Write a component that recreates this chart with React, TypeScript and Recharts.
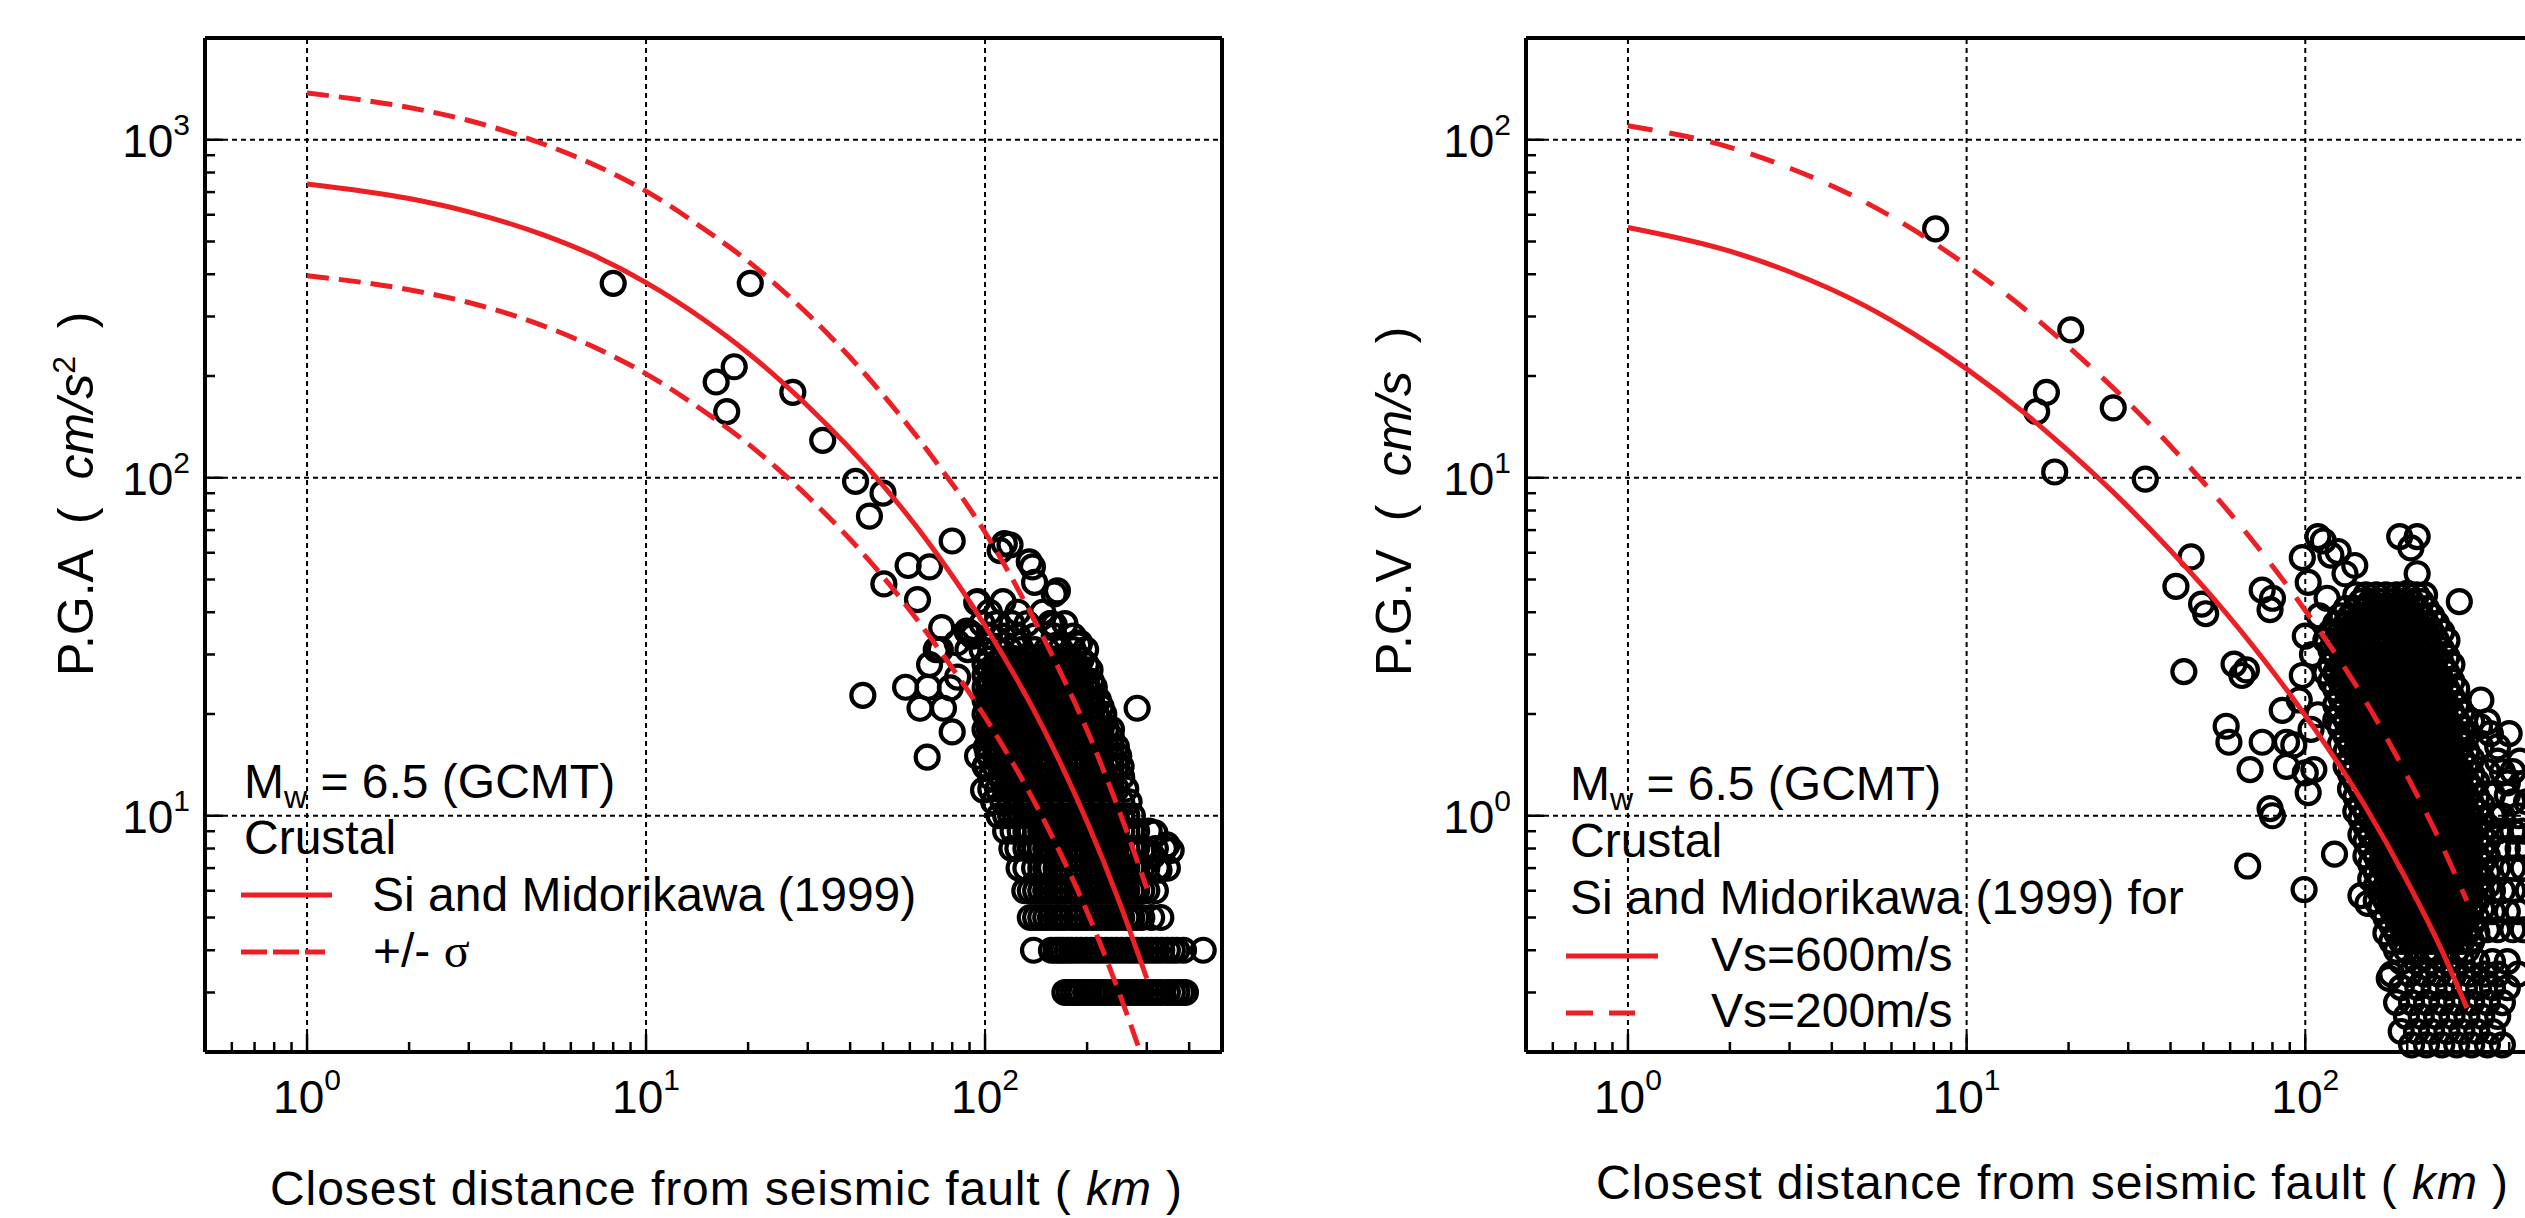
import React from 'react';
import { ComposedChart, Scatter, Line, XAxis, YAxis, ReferenceLine } from 'recharts';

const FONT = '"Liberation Sans", Arial, Helvetica, sans-serif';
const RED = '#ed1f24';

// ---------- model curves ----------
const curveDistKm = [1, 2, 3, 5, 7, 10, 15, 20, 30, 50, 70, 100, 150, 200, 250, 300];
const pgaMedian = [740, 670, 612, 522, 455, 378, 291, 234, 163, 95, 62, 36.5, 17.8, 9.6, 5.5, 3.3];
const pgaPlusSigma = [1375, 1245, 1140, 970, 845, 705, 540, 437, 305, 176, 115, 69, 33, 17.9, 10.2, 6.1];
const pgaMinusDistKm = [1, 2, 3, 5, 7, 10, 15, 20, 30, 50, 70, 100, 150, 200, 250, 287];
const pgaMinusSigma = [396, 360, 330, 281, 244, 203, 156, 126, 88, 51, 33, 19.6, 9.6, 5.2, 2.95, 2.0];
const pgvVs600 = [55, 46.8, 40.7, 32.3, 26.6, 21.0, 15.4, 12.0, 8.2, 4.76, 3.18, 1.98, 1.07, 0.64, 0.41, 0.27];
const pgvVs200 = [110, 95, 82.5, 65.5, 54, 42.5, 31.3, 24.4, 16.7, 9.7, 6.5, 4.05, 2.2, 1.31, 0.84, 0.56];

// ---------- observed PGA (km, cm/s2) ----------
const pgaSparse: [number, number][] = [
  [8.0, 376], [20.3, 376], [16.1, 192], [18.2, 213], [17.3, 157], [27.1, 179], [33.2, 129],
  [41.5, 97.5], [50, 90], [45.6, 77], [80, 65], [59.3, 55], [68.6, 54.5], [50.3, 48.5], [63.2, 43.6],
  [43.6, 22.7], [58.3, 24], [67.9, 24], [64.3, 20.8], [75.4, 20.8], [80, 17.7], [67.5, 14.9],
  [74.5, 36], [68.6, 28], [71.8, 31], [83, 25.7], [89, 31], [90.3, 34.7], [82.7, 32.5], [88.4, 35.2],
  [94.5, 42.8], [79, 23.9], [73.8, 31], [99, 11.9], [100.6, 14.1], [102, 15.3], [95, 15], [281, 20.8],
  [114, 63.8], [118.5, 63.3], [110.8, 60.9], [135, 56.4], [138, 54.5], [140, 49], [160, 45.3],
  [163.5, 46.3], [156, 37], [160, 36.7], [189, 32], [190, 32.5], [317, 8.9], [354, 7.9], [326, 6.9],
  [312, 7.6], [344, 8.2],
];
const pgaDenseRows: [number, number[]][] = [
  [43, [95, 113]],
  [40, [103, 125, 148]],
  [37, [98, 108, 120, 133, 156, 172]],
  [34, [92, 103, 113, 125, 140, 160, 182]],
  [31, [98, 108, 118, 128, 140, 152, 167, 182, 198]],
  [29, [103, 111, 119, 127, 136, 146, 156, 167, 180, 192]],
  [28, [100, 107, 115, 119, 123, 127, 132, 136, 141, 146, 151, 156, 162, 167, 173, 180, 186, 199]],
  [27, [103, 111, 115, 123, 132, 141, 151, 162, 173, 186, 204]],
  [26, [100, 107, 111, 115, 119, 123, 127, 132, 136, 141, 146, 151, 156, 162, 167, 173, 180, 186, 192]],
  [25, [103, 107, 115, 123, 132, 141, 151, 162, 173, 186, 199, 206]],
  [24, [100, 103, 107, 111, 115, 119, 123, 127, 132, 136, 141, 146, 151, 156, 162, 167, 173, 180, 186, 192, 199, 210]],
  [23, [105, 111, 119, 127, 136, 146, 156, 167, 180, 192, 206]],
  [22, [100, 103, 107, 111, 115, 119, 123, 127, 132, 136, 141, 146, 151, 156, 162, 167, 173, 180, 186, 192, 199, 206, 216]],
  [21, [104, 111, 119, 127, 136, 146, 156, 167, 180, 192, 206, 220]],
  [20, [100, 103, 107, 111, 115, 119, 123, 127, 132, 136, 141, 146, 151, 156, 162, 167, 173, 180, 186, 192, 199, 206, 213, 224]],
  [19, [103, 107, 111, 119, 127, 136, 146, 156, 167, 180, 192, 206, 220]],
  [18, [100, 103, 107, 111, 115, 119, 123, 127, 132, 136, 141, 146, 151, 156, 162, 167, 173, 180, 186, 192, 199, 206, 213, 220, 228, 236]],
  [17, [104, 111, 119, 127, 136, 146, 156, 167, 180, 192, 206, 220, 236]],
  [16, [101, 107, 111, 115, 119, 123, 127, 132, 136, 141, 146, 151, 156, 162, 167, 173, 180, 186, 192, 199, 206, 213, 220, 228, 236, 244]],
  [15, [103, 111, 119, 127, 136, 146, 156, 167, 180, 192, 206, 220, 236, 248]],
  [14, [100, 107, 111, 115, 119, 123, 127, 132, 136, 141, 146, 151, 156, 162, 167, 173, 180, 186, 192, 199, 206, 213, 220, 228, 236, 244, 252]],
  [13, [104, 111, 119, 127, 136, 146, 156, 167, 180, 192, 206, 220, 236, 253]],
  [12, [104, 109, 115, 119, 123, 127, 132, 136, 141, 146, 151, 156, 162, 167, 173, 180, 186, 192, 199, 206, 213, 220, 228, 236, 244, 260]],
  [11, [106, 113, 119, 127, 136, 146, 156, 167, 180, 192, 206, 220, 236, 253, 266]],
  [10, [110, 115, 119, 123, 127, 132, 136, 141, 146, 151, 156, 162, 167, 173, 180, 186, 192, 199, 206, 213, 220, 228, 236, 244, 253, 262, 272]],
  [9, [115, 121, 127, 132, 136, 141, 146, 151, 156, 162, 167, 173, 180, 186, 192, 199, 206, 213, 220, 228, 236, 244, 253, 262, 271, 280, 305]],
  [8, [120, 125, 132, 136, 141, 146, 151, 156, 162, 167, 173, 180, 186, 192, 199, 206, 213, 220, 228, 236, 244, 253, 262, 271, 280, 292, 318, 338]],
  [7, [126, 132, 140, 146, 151, 156, 162, 167, 173, 180, 186, 192, 199, 206, 213, 220, 228, 236, 244, 253, 262, 271, 280, 290, 300, 322, 345]],
  [6, [131, 136, 141, 146, 151, 156, 162, 167, 173, 180, 186, 192, 199, 206, 213, 220, 228, 236, 244, 253, 262, 271, 280, 290, 300, 318]],
  [5, [136, 141, 146, 151, 156, 162, 167, 173, 180, 186, 192, 199, 206, 213, 220, 228, 236, 244, 253, 262, 271, 280, 290, 310, 330]],
  [4, [139, 157, 162, 166, 170, 175, 180, 186, 192, 199, 206, 213, 220, 228, 236, 244, 253, 262, 271, 280, 290, 300, 310, 321, 332, 345, 357, 368, 385, 440]],
  [3, [172, 177, 182, 187, 192, 198, 203, 209, 215, 221, 228, 236, 244, 253, 262, 271, 280, 290, 300, 310, 321, 332, 345, 357, 368, 380, 390]],
];

// ---------- observed PGV (km, cm/s) ----------
const pgvSparse: [number, number][] = [
  [8.1, 54.5], [20.3, 27.4], [17.2, 17.9], [16.1, 15.7], [18.2, 10.4], [27.1, 16.1], [33.7, 9.9],
  [46, 5.83], [41.5, 4.77], [49.4, 4.23], [50.8, 3.96], [43.8, 2.67],
  [74.6, 4.65], [78.7, 4.07], [80, 4.4], [61.6, 2.81], [65, 2.6], [67, 2.7],
  [58.4, 1.84], [59.5, 1.65], [68.7, 1.37], [74.6, 1.65], [88, 1.65], [85.5, 2.05],
  [78.7, 1.05], [80, 1.0], [67.6, 0.71], [99.2, 0.605], [102, 1.17], [106, 1.37], [100, 1.34],
  [88, 1.4], [122, 0.77], [109, 6.7], [125, 6.05], [98, 5.8], [140, 5.5], [102, 4.9], [116, 4.4],
  [110, 3.9], [100, 3.4], [105, 3.0], [98, 2.6], [96, 2.2], [109, 1.99], [104, 1.8], [92.5, 1.62],
  [113, 6.5], [119, 5.9], [131, 5.2], [190, 6.7], [214, 6.7], [205, 6.2], [214, 5.2], [200, 4.55],
  [285, 4.3], [327, 1.84], [146, 0.58], [153, 0.55], [177, 0.33],
];
const pgvDenseRows: [number, number[]][] = [
  [4.5, [141, 151, 162, 173, 186, 199, 213, 225]],
  [4.3, [146, 156, 167, 180, 192, 206, 220]],
  [4.1, [132, 141, 151, 162, 173, 186, 199, 213, 228]],
  [3.9, [127, 136, 146, 156, 167, 180, 192, 206, 220, 236]],
  [3.7, [123, 132, 141, 151, 162, 173, 186, 199, 213, 228, 244]],
  [3.5, [119, 127, 136, 146, 156, 167, 180, 192, 206, 220, 236, 253]],
  [3.3, [115, 123, 132, 141, 151, 162, 173, 186, 199, 213, 228, 244, 262]],
  [3.1, [119, 127, 136, 146, 156, 167, 180, 192, 206, 220, 236, 253]],
  [2.95, [123, 132, 141, 151, 162, 173, 186, 199, 213, 228, 244, 262]],
  [2.8, [119, 127, 136, 146, 156, 167, 180, 192, 206, 220, 236, 253, 271]],
  [2.65, [115, 123, 132, 141, 151, 162, 173, 186, 199, 213, 228, 244, 262]],
  [2.5, [119, 127, 136, 146, 156, 167, 180, 192, 206, 220, 236, 253, 271]],
  [2.37, [123, 132, 141, 151, 162, 173, 186, 199, 213, 228, 244, 262, 280]],
  [2.25, [127, 136, 146, 156, 167, 180, 192, 206, 220, 236, 253, 271]],
  [2.13, [123, 132, 141, 151, 162, 173, 186, 199, 213, 228, 244, 262, 280]],
  [2.02, [127, 136, 146, 156, 167, 180, 192, 206, 220, 236, 253, 271, 290]],
  [1.92, [123, 132, 141, 151, 162, 173, 186, 199, 213, 228, 244, 262, 280]],
  [1.82, [127, 136, 146, 156, 167, 180, 192, 206, 220, 236, 253, 271, 290]],
  [1.72, [132, 141, 151, 162, 173, 186, 199, 213, 228, 244, 262, 280, 300]],
  [1.63, [127, 136, 146, 156, 167, 180, 192, 206, 220, 236, 253, 271, 290]],
  [1.55, [132, 141, 151, 162, 173, 186, 199, 213, 228, 244, 262, 280, 300]],
  [1.47, [136, 146, 156, 167, 180, 192, 206, 220, 236, 253, 271, 290, 310]],
  [1.4, [132, 141, 151, 162, 173, 186, 199, 213, 228, 244, 262, 280, 300]],
  [1.33, [136, 146, 156, 167, 180, 192, 206, 220, 236, 253, 271, 290, 310]],
  [1.26, [141, 151, 162, 173, 186, 199, 213, 228, 244, 262, 280, 300, 321]],
  [1.2, [136, 146, 156, 167, 180, 192, 206, 220, 236, 253, 271, 290, 310]],
  [1.14, [141, 151, 162, 173, 186, 199, 213, 228, 244, 262, 280, 300, 321]],
  [1.08, [146, 156, 167, 180, 192, 206, 220, 236, 253, 271, 290, 310, 332]],
  [1.03, [141, 151, 162, 173, 186, 199, 213, 228, 244, 262, 280, 300, 321]],
  [0.98, [146, 156, 167, 180, 192, 206, 220, 236, 253, 271, 290, 310, 332]],
  [0.93, [151, 162, 173, 186, 199, 213, 228, 244, 262, 280, 300, 321, 345]],
  [0.88, [146, 156, 167, 180, 192, 206, 220, 236, 253, 271, 290, 310, 332]],
  [0.84, [151, 162, 173, 186, 199, 213, 228, 244, 262, 280, 300, 321, 345]],
  [0.8, [156, 167, 180, 192, 206, 220, 236, 253, 271, 290, 310, 332]],
  [0.76, [151, 162, 173, 186, 199, 213, 228, 244, 262, 280, 300, 321, 345]],
  [0.72, [156, 167, 180, 192, 206, 220, 236, 253, 271, 290, 310, 332]],
  [0.68, [162, 173, 186, 199, 213, 228, 244, 262, 280, 300, 321, 345]],
  [0.65, [156, 167, 180, 192, 206, 220, 236, 253, 271, 290, 310, 332]],
  [0.62, [162, 173, 186, 199, 213, 228, 244, 262, 280, 300, 321, 345]],
  [0.59, [167, 180, 192, 206, 220, 236, 253, 271, 290, 310, 332]],
  [0.56, [162, 173, 186, 199, 213, 228, 244, 262, 280, 300, 321]],
  [0.53, [167, 180, 192, 206, 220, 236, 253, 271, 290, 310, 332]],
  [0.5, [173, 186, 199, 213, 228, 244, 262, 280, 300, 321]],
  [0.475, [180, 192, 206, 220, 236, 253, 271, 290, 310]],
  [0.45, [173, 186, 199, 213, 228, 244, 262, 280, 300, 321]],
  [0.425, [180, 192, 206, 220, 236, 253, 271, 290, 310]],
  [0.4, [186, 199, 213, 228, 244, 262, 280, 300]],
];
const pgvOuterRows: [number, number[]][] = [
  [2.2, [330]], [1.9, [310, 345]], [1.75, [352, 400]], [1.6, [330, 370]], [1.45, [370, 430]],
  [1.35, [345, 382, 410]], [1.25, [395, 445]], [1.15, [357, 395]], [1.1, [410, 450]],
  [1.0, [357, 382, 425]], [0.9, [370, 410, 440]], [0.8, [370, 395, 425, 455]], [0.7, [370, 410, 440]],
  [0.6, [357, 382, 410, 455]], [0.52, [357, 395, 425]], [0.46, [345, 370, 410, 440]],
  [0.37, [192, 213, 236, 262, 290, 321, 357, 395]],
  [0.34, [180, 203, 225, 248, 275, 305, 338, 370, 425]],
  [0.31, [192, 215, 240, 265, 295, 325, 357, 395]],
  [0.28, [186, 206, 228, 253, 280, 310, 345, 382]],
  [0.255, [199, 220, 244, 271, 300, 332, 370]],
  [0.23, [192, 213, 236, 262, 290, 321, 357]],
  [0.21, [206, 228, 253, 280, 310, 345, 382]],
];

// ---------- axes ----------
const xTicks = [0.5, 0.6, 0.7, 0.8, 0.9, 1, 2, 3, 4, 5, 6, 7, 8, 9, 10, 20, 30, 40, 50, 60, 70, 80, 90, 100, 200, 300, 400, 500];
const pgaYTicks = [2, 3, 4, 5, 6, 7, 8, 9, 10, 20, 30, 40, 50, 60, 70, 80, 90, 100, 200, 300, 400, 500, 600, 700, 800, 900, 1000, 2000];
const pgvYTicks = [0.2, 0.3, 0.4, 0.5, 0.6, 0.7, 0.8, 0.9, 1, 2, 3, 4, 5, 6, 7, 8, 9, 10, 20, 30, 40, 50, 60, 70, 80, 90, 100, 200];
const xGrid = [1, 10, 100];
const pgaYGrid = [10, 100, 1000];
const pgvYGrid = [1, 10, 100];

type Pt = { x: number; y: number };
const buildPoints = (sparse: [number, number][], ...rowSets: [number, number[]][][]): Pt[] => [
  ...sparse.map(([x, y]) => ({ x, y })),
  ...rowSets.flatMap((rows) => rows.flatMap(([y, xs]) => xs.map((x) => ({ x, y })))),
];
const buildCurve = (xs: number[], ys: number[]): Pt[] => xs.map((x, i) => ({ x, y: ys[i] }));

const isMajor = (v: number) => {
  const e = Math.log10(v);
  return Math.abs(e - Math.round(e)) < 1e-9;
};
const expOf = (v: number) => Math.round(Math.log10(v));

const TS = { stroke: '#000', strokeWidth: 2.5 };
const MAJ = 18;
const MIN = 10;

const BottomTick = (p: any) => {
  const v = p.payload.value;
  const m = isMajor(v);
  return (
    <g>
      <line x1={p.x} x2={p.x} y1={p.y} y2={p.y - (m ? MAJ : MIN)} {...TS} />
      {m && (
        <text x={p.x} y={p.y + 61} textAnchor="middle" fontFamily={FONT} fontSize={46} fill="#000">
          10<tspan dy={-23} fontSize={30}>{expOf(v)}</tspan>
        </text>
      )}
    </g>
  );
};
const TopTick = (p: any) => {
  const m = isMajor(p.payload.value);
  return <line x1={p.x} x2={p.x} y1={p.y} y2={p.y + (m ? MAJ : MIN)} {...TS} />;
};
const LeftTick = (p: any) => {
  const v = p.payload.value;
  const m = isMajor(v);
  return (
    <g>
      <line x1={p.x} x2={p.x + (m ? MAJ : MIN)} y1={p.y} y2={p.y} {...TS} />
      {m && (
        <text x={p.x - 15} y={p.y + 17} textAnchor="end" fontFamily={FONT} fontSize={46} fill="#000">
          10<tspan dy={-22} fontSize={30}>{expOf(v)}</tspan>
        </text>
      )}
    </g>
  );
};
const RightTick = (p: any) => {
  const m = isMajor(p.payload.value);
  return <line x1={p.x} x2={p.x - (m ? MAJ : MIN)} y1={p.y} y2={p.y} {...TS} />;
};

const Ring = (p: any) => <circle cx={p.cx} cy={p.cy} r={11.5} fill="none" stroke="#000" strokeWidth={4.2} />;

type Curve = { data: Pt[]; dash?: string };

function Panel(props: {
  left: number;
  width: number;
  plotLeft: number;
  plotRight: number;
  yDomain: [number, number];
  yTicks: number[];
  yGrid: number[];
  obs: Pt[];
  curves: Curve[];
}) {
  const H = 1218;
  const plotTop = 38;
  const plotBottom = 1052;
  const yW = 60;
  const yRW = 20;
  const xH = 60;
  const xTH = 20;
  const margin = {
    left: props.plotLeft - yW,
    right: props.width - props.plotRight - yRW,
    top: plotTop - xTH,
    bottom: H - plotBottom - xH,
  };
  const axisLine = { stroke: '#000', strokeWidth: 4 };
  return (
    <div style={{ position: 'absolute', left: props.left, top: 0 }}>
      <ComposedChart width={props.width} height={H} margin={margin}>
        <XAxis type="number" dataKey="x" scale="log" domain={[0.5, 500]} ticks={xTicks} interval={0}
          orientation="bottom" height={xH} tickSize={0} tickMargin={0} tick={BottomTick} tickLine={false} axisLine={axisLine} />
        <XAxis xAxisId="top" type="number" scale="log" domain={[0.5, 500]} ticks={xTicks} interval={0}
          orientation="top" height={xTH} tickSize={0} tickMargin={0} tick={TopTick} tickLine={false} axisLine={axisLine} />
        <YAxis type="number" dataKey="y" scale="log" domain={props.yDomain} ticks={props.yTicks} interval={0}
          orientation="left" width={yW} tickSize={0} tickMargin={0} tick={LeftTick} tickLine={false} axisLine={axisLine} />
        <YAxis yAxisId="right" type="number" scale="log" domain={props.yDomain} ticks={props.yTicks} interval={0}
          orientation="right" width={yRW} tickSize={0} tickMargin={0} tick={RightTick} tickLine={false} axisLine={axisLine} />
        {xGrid.map((g) => (
          <ReferenceLine key={'gx' + g} x={g} stroke="#000" strokeWidth={2} strokeDasharray="5 4" />
        ))}
        {props.yGrid.map((g) => (
          <ReferenceLine key={'gy' + g} y={g} stroke="#000" strokeWidth={2} strokeDasharray="5 4" />
        ))}
        <Scatter data={props.obs} shape={Ring} isAnimationActive={false} />
        {props.curves.map((c, i) => (
          <Line key={i} data={c.data} dataKey="y" type="monotone" stroke={RED} strokeWidth={5}
            strokeDasharray={c.dash} dot={false} activeDot={false} isAnimationActive={false} zIndex={1000} />
        ))}
      </ComposedChart>
    </div>
  );
}

const SERIF = '"Liberation Serif", "Times New Roman", serif';

const Overlay = () => (
  <svg width={2525} height={1218} style={{ position: 'absolute', left: 0, top: 0, pointerEvents: 'none' }}
    fontFamily={FONT} fill="#000">
    {/* axis titles */}
    <text x={270} y={1205} fontSize={48} textLength={912} lengthAdjust="spacing">
      {'Closest distance from seismic fault ( '}<tspan fontStyle="italic">km</tspan>{' )'}
    </text>
    <text x={1596} y={1199} fontSize={48} textLength={912} lengthAdjust="spacing">
      {'Closest distance from seismic fault ( '}<tspan fontStyle="italic">km</tspan>{' )'}
    </text>
    <text transform="translate(93,676) rotate(-90)" fontSize={50}>
      P.G.A<tspan dx={14}>{' ('}</tspan><tspan dx={14} fontStyle="italic">{' cm/s'}</tspan>
      <tspan dy={-18} fontSize={32}>2</tspan><tspan dy={18} dx={14}>{' )'}</tspan>
    </text>
    <text transform="translate(1411,676) rotate(-90)" fontSize={50}>
      P.G.V<tspan dx={14}>{' ('}</tspan><tspan dx={14} fontStyle="italic">{' cm/s'}</tspan>
      <tspan dx={14}>{' )'}</tspan>
    </text>

    {/* left legend */}
    <text x={244} y={798} fontSize={48}>
      M<tspan dy={10} fontSize={32}>w</tspan><tspan dy={-10}>{' = 6.5 (GCMT)'}</tspan>
    </text>
    <text x={244} y={854} fontSize={48}>Crustal</text>
    <line x1={241} x2={332} y1={895} y2={895} stroke={RED} strokeWidth={5} />
    <text x={372} y={911} fontSize={48}>Si and Midorikawa (1999)</text>
    <line x1={241} x2={325} y1={952} y2={952} stroke={RED} strokeWidth={5} strokeDasharray="26 6" />
    <text x={373} y={967} fontSize={48}>
      {'+/- '}<tspan fontFamily={SERIF}>σ</tspan>
    </text>

    {/* right legend */}
    <text x={1570} y={800} fontSize={48}>
      M<tspan dy={10} fontSize={32}>w</tspan><tspan dy={-10}>{' = 6.5 (GCMT)'}</tspan>
    </text>
    <text x={1570} y={857} fontSize={48}>Crustal</text>
    <text x={1570} y={914} fontSize={48}>Si and Midorikawa (1999) for</text>
    <line x1={1566} x2={1658} y1={956} y2={956} stroke={RED} strokeWidth={5} />
    <text x={1711} y={971} fontSize={48}>Vs=600m/s</text>
    <line x1={1566} x2={1635} y1={1013} y2={1013} stroke={RED} strokeWidth={5} strokeDasharray="27 16" />
    <text x={1711} y={1027} fontSize={48}>Vs=200m/s</text>
  </svg>
);

export default function App() {
  const pgaObs = buildPoints(pgaSparse, pgaDenseRows);
  const pgvObs = buildPoints(pgvSparse, pgvDenseRows, pgvOuterRows);
  return (
    <div style={{ position: 'absolute', left: 0, top: 0, width: 2525, height: 1218, overflow: 'hidden', background: '#fff' }}>
      <Panel left={0} width={1262} plotLeft={205} plotRight={1222} yDomain={[2, 2000]} yTicks={pgaYTicks} yGrid={pgaYGrid}
        obs={pgaObs}
        curves={[
          { data: buildCurve(curveDistKm, pgaMedian) },
          { data: buildCurve(curveDistKm, pgaPlusSigma), dash: '22 10' },
          { data: buildCurve(pgaMinusDistKm, pgaMinusSigma), dash: '22 10' },
        ]} />
      <Panel left={1262} width={1300} plotLeft={264} plotRight={1280} yDomain={[0.2, 200]} yTicks={pgvYTicks} yGrid={pgvYGrid}
        obs={pgvObs}
        curves={[
          { data: buildCurve(curveDistKm, pgvVs600) },
          { data: buildCurve(curveDistKm, pgvVs200), dash: '25 17' },
        ]} />
      <Overlay />
    </div>
  );
}
